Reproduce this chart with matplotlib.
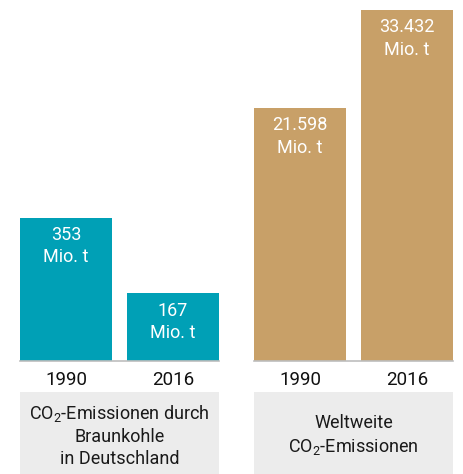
import matplotlib
matplotlib.use("Agg")
import matplotlib.pyplot as plt

plt.rcParams['font.family'] = ['Roboto', 'DejaVu Sans']

years = ["1990", "2016"]
braunkohle = [353, 167]          # Mio. t
welt = [21598, 33432]            # Mio. t
braunkohle_labels = ["353\nMio. t", "167\nMio. t"]
welt_labels = ["21.598\nMio. t", "33.432\nMio. t"]
titel_links = "CO$\\mathregular{_2}$-Emissionen durch\nBraunkohle\nin Deutschland"
titel_rechts = "Weltweite\nCO$\\mathregular{_2}$-Emissionen"

teal = "#00a0b6"
tan = "#c8a068"
grau = "#ececec"
W, H = 463, 474

fig = plt.figure(figsize=(W / 100, H / 100), dpi=100)


def panel(x0, werte, labels, farbe, ylim, titel):
    ax = fig.add_axes([x0 / W, 113 / H, 199 / W, 351 / H])
    unten = ylim[0]
    hoehen = [v - unten for v in werte]
    bars = ax.bar([0, 1], hoehen, bottom=unten, width=0.86, color=farbe)
    ax.set_xlim(-0.43, 1.43)
    ax.set_ylim(*ylim)
    for b, lab in zip(bars, labels):
        ax.annotate(lab, (b.get_x() + b.get_width() / 2, b.get_y() + b.get_height()),
                    xytext=(0, -6), textcoords="offset points", ha="center", va="top",
                    color="white", fontsize=13, linespacing=1.3)
    ax.set_xticks([0, 1], years)
    ax.tick_params(axis="x", length=0, pad=7, labelsize=13.5, labelcolor="#111111")
    ax.set_yticks([])
    for s in ["top", "left", "right"]:
        ax.spines[s].set_visible(False)
    ax.spines["bottom"].set_color("#bdbdbd")
    ax.spines["bottom"].set_linewidth(1.2)

    box = fig.add_axes([x0 / W, 0, 199 / W, 82 / H])
    box.set_facecolor(grau)
    box.set_xticks([])
    box.set_yticks([])
    for s in box.spines.values():
        s.set_visible(False)
    box.text(0.5, 0.47, titel, ha="center", va="center", fontsize=13,
             color="#1a1a1a", linespacing=1.3, transform=box.transAxes)


panel(20, braunkohle, braunkohle_labels, teal, (0, 866), titel_links)
panel(254, welt, welt_labels, tan, (-8950, 33432), titel_rechts)

fig.savefig("out.png", dpi=100)
